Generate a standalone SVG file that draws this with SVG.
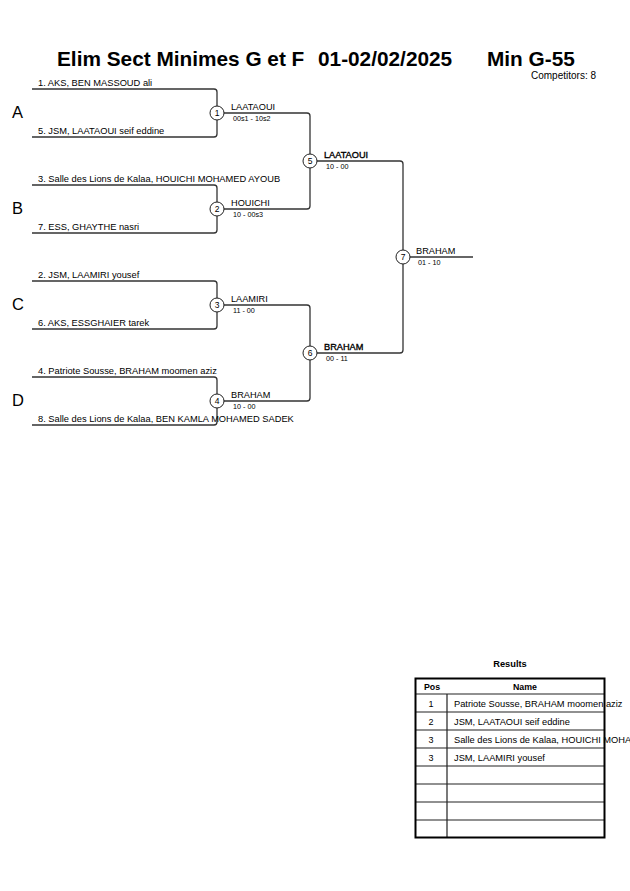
<svg xmlns="http://www.w3.org/2000/svg" width="630" height="891" viewBox="0 0 630 891">
<style>
text{font-family:"Liberation Sans",Arial,sans-serif;fill:#000}
.title{font-size:20.8px;font-weight:bold}
.comp{font-size:10px}
.grp{font-size:16.5px}
.nm{font-size:9.3px}
.sc{font-size:7.2px}
.wn{font-size:9.2px}
.wb{font-size:9.2px;stroke:#000;stroke-width:0.35}
.num{font-size:8.5px;text-anchor:middle}
.br{fill:none;stroke:#333;stroke-width:1.3}
.cir{fill:#fff;stroke:#222;stroke-width:1}
.th{font-size:8.8px;font-weight:bold;text-anchor:middle}
.td{font-size:9.3px}
.tc{font-size:9px;text-anchor:middle}
.grid{stroke:#222;stroke-width:1.2;fill:none}
</style>
<rect width="630" height="891" fill="#fff"/>
<g id="title">
<text class="title" x="57" y="66">Elim Sect Minimes G et F</text>
<text class="title" x="318" y="66">01-02/02/2025</text>
<text class="title" x="487" y="66">Min G-55</text>
<text class="comp" x="531" y="79">Competitors: 8</text>
</g>
<g id="groups">
<text class="grp" x="12" y="117.5">A</text>
<text class="grp" x="12" y="213.5">B</text>
<text class="grp" x="12" y="309.5">C</text>
<text class="grp" x="12" y="405.5">D</text>
</g>
<g id="connectors">
<path class="br" d="M32,89 H214 Q217,89 217,92 V134 Q217,137 214,137 H32"/>
<path class="br" d="M32,185 H214 Q217,185 217,188 V230 Q217,233 214,233 H32"/>
<path class="br" d="M32,281 H214 Q217,281 217,284 V326 Q217,329 214,329 H32"/>
<path class="br" d="M32,377 H214 Q217,377 217,380 V422 Q217,425 214,425 H32"/>
<path class="br" d="M217,113 H307 Q310,113 310,116 V206 Q310,209 307,209 H217"/>
<path class="br" d="M217,305 H307 Q310,305 310,308 V398 Q310,401 307,401 H217"/>
<path class="br" d="M310,161 H400 Q403,161 403,164 V350 Q403,353 400,353 H310"/>
<path class="br" d="M403,257 H473"/>
</g>
<g id="entrants">
<text class="nm" x="38" y="85.5">1. AKS, BEN MASSOUD ali</text>
<text class="nm" x="38" y="133.5">5. JSM, LAATAOUI seif eddine</text>
<text class="nm" x="38" y="181.5">3. Salle des Lions de Kalaa, HOUICHI MOHAMED AYOUB</text>
<text class="nm" x="38" y="229.5">7. ESS, GHAYTHE nasri</text>
<text class="nm" x="38" y="277.5">2. JSM, LAAMIRI yousef</text>
<text class="nm" x="38" y="325.5">6. AKS, ESSGHAIER tarek</text>
<text class="nm" x="38" y="373.5">4. Patriote Sousse, BRAHAM moomen aziz</text>
<text class="nm" x="38" y="421.5">8. Salle des Lions de Kalaa, BEN KAMLA MOHAMED SADEK</text>
</g>
<g id="m1"><circle class="cir" cx="217" cy="113" r="7"/><text class="num" x="217" y="116">1</text>
<text class="wn" x="231" y="110">LAATAOUI</text><text class="sc" x="233" y="121">00s1 - 10s2</text></g>
<g id="m2"><circle class="cir" cx="217" cy="209" r="7"/><text class="num" x="217" y="212">2</text>
<text class="wn" x="231" y="206">HOUICHI</text><text class="sc" x="233" y="217">10 - 00s3</text></g>
<g id="m3"><circle class="cir" cx="217" cy="305" r="7"/><text class="num" x="217" y="308">3</text>
<text class="wn" x="231" y="302">LAAMIRI</text><text class="sc" x="233" y="313">11 - 00</text></g>
<g id="m4"><circle class="cir" cx="217" cy="401" r="7"/><text class="num" x="217" y="404">4</text>
<text class="wn" x="231" y="398">BRAHAM</text><text class="sc" x="233" y="409">10 - 00</text></g>
<g id="m5"><circle class="cir" cx="310" cy="161" r="7"/><text class="num" x="310" y="164">5</text>
<text class="wb" x="324" y="158">LAATAOUI</text><text class="sc" x="326" y="169">10 - 00</text></g>
<g id="m6"><circle class="cir" cx="310" cy="353" r="7"/><text class="num" x="310" y="356">6</text>
<text class="wb" x="324" y="350">BRAHAM</text><text class="sc" x="326" y="361">00 - 11</text></g>
<g id="m7"><circle class="cir" cx="403" cy="257" r="7"/><text class="num" x="403" y="260">7</text>
<text class="wn" x="416" y="254">BRAHAM</text><text class="sc" x="418" y="265">01 - 10</text></g>
<g id="results">
<text x="510" y="667" style="font-size:9.3px;font-weight:bold;text-anchor:middle">Results</text>
<path class="grid" d="M415,694 H604 M415,712 H604 M415,730 H604 M415,748 H604 M415,766 H604 M415,784 H604 M415,802 H604 M415,820 H604 M447,694 V838"/>
<rect x="415.5" y="678.5" width="189" height="159" fill="none" stroke="#000" stroke-width="2"/>
<text class="th" x="432" y="690">Pos</text>
<text class="th" x="525" y="690">Name</text>
<text class="tc" x="431" y="706.5">1</text><text class="td" x="454" y="706.5">Patriote Sousse, BRAHAM moomen aziz</text>
<text class="tc" x="431" y="724.5">2</text><text class="td" x="454" y="724.5">JSM, LAATAOUI seif eddine</text>
<text class="tc" x="431" y="742.5">3</text><text class="td" x="454" y="742.5">Salle des Lions de Kalaa, HOUICHI MOHA</text>
<text class="tc" x="431" y="760.5">3</text><text class="td" x="454" y="760.5">JSM, LAAMIRI yousef</text>
</g>
</svg>
